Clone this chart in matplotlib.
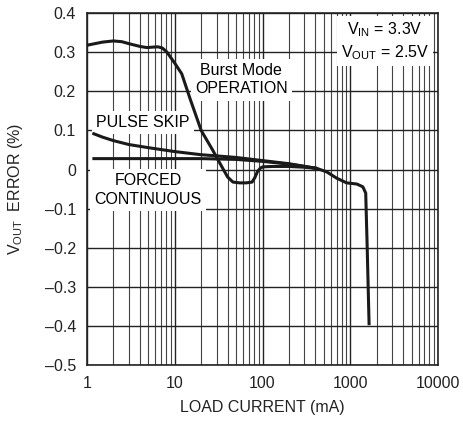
import matplotlib
matplotlib.use("Agg")
import matplotlib.pyplot as plt
from matplotlib.ticker import FixedLocator, NullFormatter, LogLocator

plt.rcParams['font.family'] = ['Liberation Sans Narrow', 'Liberation Sans', 'DejaVu Sans']
plt.rcParams['mathtext.fontset'] = 'custom'
plt.rcParams['mathtext.rm'] = 'Liberation Sans'

# curves
burstX = [1, 1.5, 2, 2.5, 3, 4, 4.8, 5.5, 6.4, 7.2, 8.1, 10, 12, 15, 20, 27, 32.7, 40, 46, 55, 65, 76,
          82, 88, 95, 101, 130, 200, 300, 417, 540, 700, 910, 1190, 1390, 1500, 1560, 1640]
burstY = [0.318, 0.326, 0.329, 0.327, 0.322, 0.315, 0.312, 0.313, 0.314, 0.311, 0.301, 0.272, 0.245,
          0.18, 0.10, 0.05, 0.016, -0.019, -0.032, -0.034, -0.034, -0.032, -0.02, -0.004, 0.004, 0.007,
          0.008, 0.008, 0.006, 0.003, -0.006, -0.022, -0.034, -0.037, -0.044, -0.06, -0.2, -0.398]

pulseX = [1.15, 1.5, 2, 3, 5, 10, 20, 30, 50, 100, 200, 417]
pulseY = [0.093, 0.083, 0.074, 0.064, 0.056, 0.046, 0.038, 0.035, 0.031, 0.023, 0.015, 0.003]

forcedX = [1.15, 5, 20, 50, 100, 200, 417]
forcedY = [0.028, 0.028, 0.028, 0.026, 0.021, 0.014, 0.003]

yTicks = [0.4, 0.3, 0.2, 0.1, 0, -0.1, -0.2, -0.3, -0.4, -0.5]
yLabels = ['0.4', '0.3', '0.2', '0.1', '0', '–0.1', '–0.2', '–0.3', '–0.4', '–0.5']
xTicks = [1, 10, 100, 1000, 10000]
xLabels = ['1', '10', '100', '1000', '10000']

fig = plt.figure(figsize=(4.63, 4.25), dpi=100)
ax = fig.add_axes([0.188, 0.141, 0.758, 0.828])

ax.set_xscale('log')
ax.set_xlim(1, 10000)
ax.set_ylim(-0.5, 0.4)

ax.xaxis.set_major_locator(FixedLocator(xTicks))
ax.xaxis.set_minor_locator(LogLocator(base=10, subs=range(2, 10), numticks=20))
ax.xaxis.set_minor_formatter(NullFormatter())
ax.set_xticklabels(xLabels)
ax.set_yticks(yTicks)
ax.set_yticklabels(yLabels)

ax.grid(True, which='major', color='#222222', linewidth=1.0)
ax.grid(True, which='minor', axis='x', color='#444444', linewidth=0.8)
ax.tick_params(which='both', length=0, labelsize=11.5, colors='#222222', pad=8)
for s in ax.spines.values():
    s.set_color('#222222')
    s.set_linewidth(1.2)

for xs, ys in [(forcedX, forcedY), (pulseX, pulseY), (burstX, burstY)]:
    ax.plot(xs, ys, color='#1a1a1a', linewidth=2.2, solid_capstyle='butt', zorder=3)

box = dict(facecolor='white', edgecolor='none', pad=3)
ax.text(57, 0.23, 'Burst Mode\nOPERATION', ha='center', va='center', fontsize=11.5,
        linespacing=1.3, bbox=box, zorder=2)
ax.text(4.3, 0.121, 'PULSE SKIP', ha='center', va='center', fontsize=11.5, bbox=box, zorder=2)
ax.text(4.95, -0.053, 'FORCED\nCONTINUOUS', ha='center', va='center', fontsize=11.5,
        linespacing=1.3, bbox=box, zorder=2)
ax.text(2490, 0.328, 'V$_{\\mathrm{IN}}$ = 3.3V\nV$_{\\mathrm{OUT}}$ = 2.5V', ha='center', va='center',
        fontsize=11.5, linespacing=1.3, bbox=box, zorder=2)

ax.set_xlabel('LOAD CURRENT (mA)', fontsize=11.5, color='#222222', labelpad=6)
ax.set_ylabel('V$_{\\mathrm{OUT}}$  ERROR (%)', fontsize=11.5, color='#222222', labelpad=14)

fig.savefig('out.png', dpi=100)
